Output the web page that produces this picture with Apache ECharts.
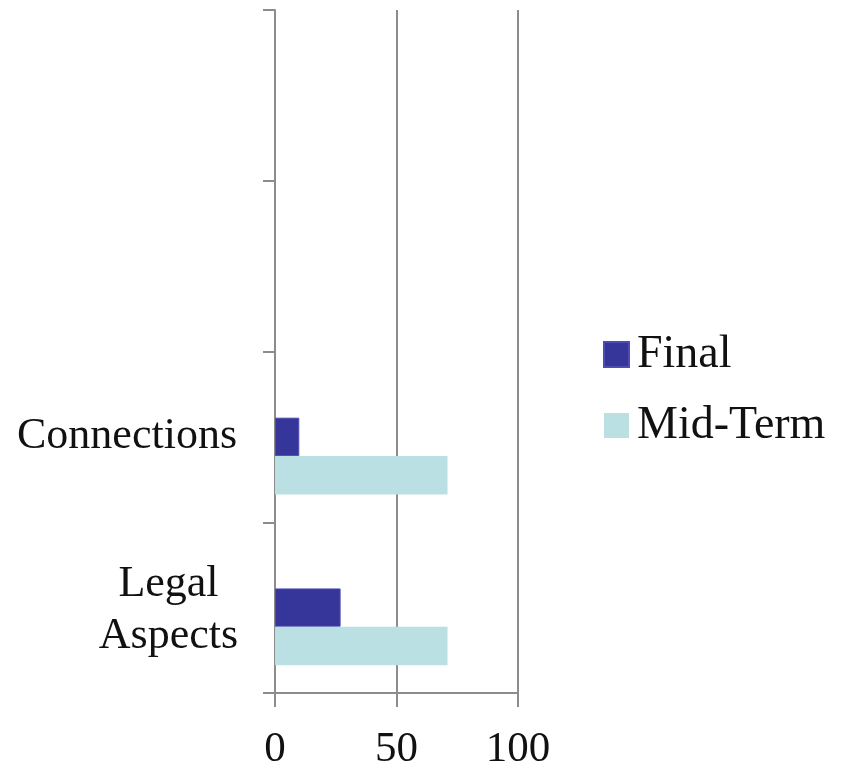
<!DOCTYPE html>
<html>
<head>
<meta charset="utf-8">
<style>
  html, body { margin: 0; padding: 0; background: #fff; }
  #chart { width: 854px; height: 771px; }
</style>
<script src="https://cdn.jsdelivr.net/npm/echarts@6/dist/echarts.min.js"></script>
</head>
<body>
<div id="chart"></div>
<script>
// Categories from bottom to top (two unused slots at the top)
const categories = ['Legal\nAspects', 'Connections', '', ''];
const finalScores = [27, 10, null, null];
const midTermScores = [71, 71, null, null];
const xTicks = { min: 0, max: 100, interval: 50 };

const FONT = '"Liberation Serif", "DejaVu Serif", serif';
const GRID_COLOR = '#8c8c8c';

const chart = echarts.init(document.getElementById('chart'));
chart.setOption({
  animation: false,
  backgroundColor: '#ffffff',
  grid: { left: 275, right: 336, top: 10, bottom: 75, containLabel: false },
  legend: {
    orient: 'vertical',
    left: 598,
    top: 326,
    data: ['Final', 'Mid-Term'],
    icon: 'rect',
    itemWidth: 25,
    itemHeight: 25,
    itemGap: 24,
    textStyle: { fontFamily: FONT, fontSize: 46, color: '#111', lineHeight: 47, padding: [0, 0, 0, 3] }
  },
  xAxis: {
    type: 'value',
    min: xTicks.min,
    max: xTicks.max,
    interval: xTicks.interval,
    axisLine: { show: true, lineStyle: { color: GRID_COLOR, width: 2 } },
    axisTick: { show: true, length: 14, lineStyle: { color: GRID_COLOR, width: 2 } },
    splitLine: { show: true, lineStyle: { color: GRID_COLOR, width: 2 } },
    axisLabel: { fontFamily: FONT, fontSize: 43, color: '#111', margin: 35 }
  },
  yAxis: {
    type: 'category',
    data: categories,
    axisLine: { show: true, lineStyle: { color: GRID_COLOR, width: 2 } },
    axisTick: { show: true, length: 12, lineStyle: { color: GRID_COLOR, width: 2 } },
    splitLine: { show: false },
    axisLabel: {
      fontFamily: FONT,
      fontSize: 44,
      color: '#111',
      margin: 38,
      lineHeight: 52,
      formatter: function (v) {
        if (v.indexOf('\n') < 0) return v;
        return v.split('\n').map(function (l) { return '{c|' + l + '}'; }).join('\n');
      },
      rich: {
        c: { width: 137, align: 'center', fontFamily: FONT, fontSize: 44, lineHeight: 52, color: '#111', padding: [6, 0, 0, 0] }
      }
    }
  },
  series: [
    {
      name: 'blank',
      type: 'bar',
      data: [],
      barWidth: 38.4,
      barGap: '0%'
    },
    {
      name: 'Final',
      type: 'bar',
      data: finalScores,
      barWidth: 38.4,
      barGap: '0%',
      itemStyle: { color: '#35359a', borderColor: '#4d4db5', borderWidth: 1 }
    },
    {
      name: 'Mid-Term',
      type: 'bar',
      data: midTermScores,
      barWidth: 38.4,
      barGap: '0%',
      itemStyle: { color: '#bbe0e3' }
    }
  ]
});
</script>
</body>
</html>
